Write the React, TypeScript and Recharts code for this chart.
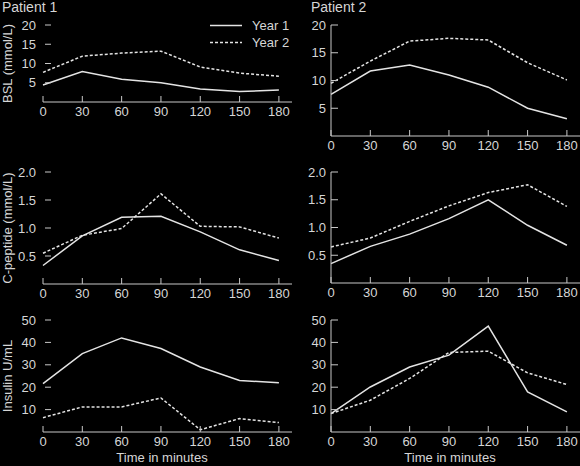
import React from 'react';
import { LineChart, Line, XAxis, YAxis, Legend, Label } from 'recharts';

const times = [0, 30, 60, 90, 120, 150, 180];
const xTicks = [0, 30, 60, 90, 120, 150, 180];

const bslTicks = [5, 10, 15, 20];
const cpepTicks = [0.5, 1.0, 1.5, 2.0];
const insTicks = [10, 20, 30, 40, 50];

const p1BslYear1 = [4.4, 7.9, 5.9, 5.0, 3.4, 2.7, 3.1];
const p1BslYear2 = [7.7, 11.9, 12.7, 13.2, 9.1, 7.5, 6.7];
const p2BslYear1 = [7.5, 11.7, 12.8, 11.0, 8.8, 5.0, 3.1];
const p2BslYear2 = [9.5, 13.5, 17.1, 17.6, 17.3, 13.2, 10.1];

const p1CpepYear1 = [0.33, 0.86, 1.19, 1.21, 0.93, 0.61, 0.42];
const p1CpepYear2 = [0.55, 0.87, 0.99, 1.61, 1.03, 1.02, 0.82];
const p2CpepYear1 = [0.35, 0.66, 0.88, 1.16, 1.5, 1.04, 0.68];
const p2CpepYear2 = [0.65, 0.81, 1.11, 1.39, 1.63, 1.77, 1.38];

const p1InsYear1 = [21.6, 35, 42, 37.3, 29, 23, 22];
const p1InsYear2 = [6.4, 11.2, 11.2, 15.2, 1, 6, 4.2];
const p2InsYear1 = [8.2, 20.1, 29, 34.3, 47.3, 17.9, 9];
const p2InsYear2 = [8.2, 14.2, 23.9, 35.5, 36.1, 26.4, 21.2];

const seriesNames = ['Year 1', 'Year 2'];

const build = (a: number[], b: number[]) =>
  times.map((t, i) => ({ t, y1: a[i], y2: b[i] }));

const FONT = '"Liberation Sans", Arial, sans-serif';
const TEXT = '#d6d6d6';
const AXIS = '#c8c8c8';
const LINE = '#e4e4e4';
const DASH = '3 2';
const FS = 13;

const X_MARGIN = 5;

const XTick = (props: any) => {
  const { x, y, payload } = props;
  const axisY = y - X_MARGIN;
  return (
    <g>
      <line x1={x} x2={x} y1={axisY - 6} y2={axisY} stroke={AXIS} strokeWidth={1} />
      <text x={x} y={y} dy="0.71em" textAnchor="middle" fill={TEXT} fontSize={FS} fontFamily={FONT}>
        {payload.value}
      </text>
    </g>
  );
};

const makeYTick = (margin: number, from: number, to: number, fmt: (v: number) => string) => (props: any) => {
  const { x, y, payload } = props;
  const axisX = x + margin;
  return (
    <g>
      <line x1={axisX + from} x2={axisX + to} y1={y} y2={y} stroke={AXIS} strokeWidth={1} />
      <text x={x} y={y} dy="0.355em" textAnchor="end" fill={TEXT} fontSize={FS} fontFamily={FONT}>
        {fmt(payload.value)}
      </text>
    </g>
  );
};

const LegendContent = (props: any) => {
  const { payload } = props;
  return (
    <div style={{ fontFamily: FONT, fontSize: FS, color: TEXT }}>
      {(payload || []).map((p: any, i: number) => (
        <div key={i} style={{ display: 'flex', alignItems: 'center', height: 17 }}>
          <svg width={36} height={17} style={{ display: 'block' }}>
            <line
              x1={0}
              x2={32}
              y1={8.5}
              y2={8.5}
              stroke={LINE}
              strokeWidth={1.5}
              strokeDasharray={i === 1 ? DASH : undefined}
            />
          </svg>
          <span style={{ marginLeft: 6, lineHeight: '17px' }}>{p.value}</span>
        </div>
      ))}
    </div>
  );
};

type PanelProps = {
  left: number;
  plotTop: number;
  plotBottom: number;
  width: number;
  yWidth: number;
  rightSide: boolean;
  data: any[];
  yMax: number;
  yTicks: number[];
  fmt: (v: number) => string;
  yLabel?: string;
  xLabel?: string;
  legend?: boolean;
};

const Panel = (p: PanelProps) => {
  const marginTop = 20;
  const xh = p.xLabel ? 34 : 20;
  const height = p.plotBottom - p.plotTop + marginTop + xh;
  const top = p.plotTop - marginTop;
  const yMargin = p.rightSide ? 5 : 7;
  const yTick = p.rightSide ? makeYTick(yMargin, 0, 7, p.fmt) : makeYTick(yMargin, 2, 8, p.fmt);
  return (
    <div style={{ position: 'absolute', left: p.left, top }}>
      <LineChart width={p.width} height={height} data={p.data} margin={{ top: marginTop, right: 0, bottom: 0, left: 0 }}>
        <XAxis
          type="number"
          dataKey="t"
          domain={[0, 190]}
          ticks={xTicks}
          interval={0}
          height={xh}
          axisLine={{ stroke: AXIS, strokeWidth: 1 }}
          tickLine={false}
          tickSize={0}
          tickMargin={X_MARGIN}
          tick={XTick}
        >
          {p.xLabel ? (
            <Label
              value={p.xLabel}
              position="insideBottom"
              offset={4}
              dx={-5.5}
              style={{ fill: TEXT, fontSize: FS, fontFamily: FONT }}
            />
          ) : null}
        </XAxis>
        <YAxis
          type="number"
          domain={[0, p.yMax]}
          ticks={p.yTicks}
          interval={0}
          width={p.yWidth}
          axisLine={p.rightSide ? { stroke: AXIS, strokeWidth: 1 } : false}
          tickLine={false}
          tickSize={0}
          tickMargin={yMargin}
          tick={yTick}
        >
          {p.yLabel ? (
            <Label
              value={p.yLabel}
              angle={-90}
              position="insideLeft"
              offset={7}
              style={{ textAnchor: 'middle', fill: TEXT, fontSize: FS, fontFamily: FONT }}
            />
          ) : null}
        </YAxis>
        {p.legend ? (
          <Legend
            content={LegendContent}
            wrapperStyle={{ position: 'absolute', left: 210, top: 12, width: 90 }}
          />
        ) : null}
        <Line
          type="linear"
          dataKey="y1"
          name={seriesNames[0]}
          stroke={LINE}
          strokeWidth={1.5}
          dot={false}
          isAnimationActive={false}
        />
        <Line
          type="linear"
          dataKey="y2"
          name={seriesNames[1]}
          stroke={LINE}
          strokeWidth={1.5}
          strokeDasharray={DASH}
          dot={false}
          isAnimationActive={false}
        />
      </LineChart>
    </div>
  );
};

const f0 = (v: number) => String(v);
const f1 = (v: number) => v.toFixed(1);

export default function App() {
  return (
    <div
      style={{
        position: 'absolute',
        left: 0,
        top: 0,
        width: 580,
        height: 466,
        background: '#000',
        overflow: 'hidden',
        fontFamily: FONT,
      }}
    >
      <div style={{ position: 'absolute', left: 2, top: -1, color: TEXT, fontSize: 14, fontFamily: FONT }}>Patient 1</div>
      <div style={{ position: 'absolute', left: 311, top: -1, color: TEXT, fontSize: 14, fontFamily: FONT }}>Patient 2</div>

      <Panel left={0} plotTop={25} plotBottom={136} width={292} yWidth={43} rightSide={false}
        data={build(p1BslYear1, p1BslYear2)} yMax={20} yTicks={bslTicks} fmt={f0} yLabel="BSL (mmol/L)" legend />
      <Panel left={290} plotTop={25} plotBottom={136} width={290} yWidth={41} rightSide
        data={build(p2BslYear1, p2BslYear2)} yMax={20} yTicks={bslTicks} fmt={f0} />

      <Panel left={0} plotTop={172} plotBottom={284} width={292} yWidth={43} rightSide={false}
        data={build(p1CpepYear1, p1CpepYear2)} yMax={2} yTicks={cpepTicks} fmt={f1} yLabel="C-peptide (mmol/L)" />
      <Panel left={290} plotTop={172} plotBottom={283} width={290} yWidth={41} rightSide
        data={build(p2CpepYear1, p2CpepYear2)} yMax={2} yTicks={cpepTicks} fmt={f1} />

      <Panel left={0} plotTop={320} plotBottom={432} width={292} yWidth={43} rightSide={false}
        data={build(p1InsYear1, p1InsYear2)} yMax={50} yTicks={insTicks} fmt={f0} yLabel="Insulin U/mL" xLabel="Time in minutes" />
      <Panel left={290} plotTop={320} plotBottom={432} width={290} yWidth={41} rightSide
        data={build(p2InsYear1, p2InsYear2)} yMax={50} yTicks={insTicks} fmt={f0} xLabel="Time in minutes" />
    </div>
  );
}
